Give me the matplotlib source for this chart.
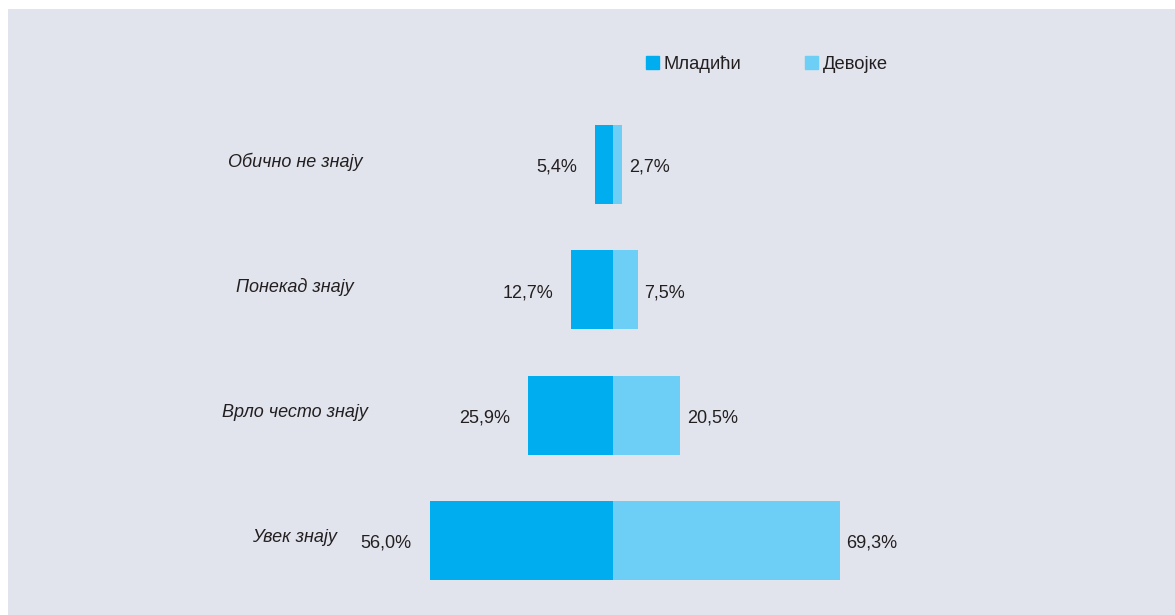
import matplotlib
matplotlib.use('Agg')
import matplotlib.pyplot as plt
from matplotlib.patches import Patch

plt.rcParams['font.family'] = ['Liberation Sans', 'DejaVu Sans']

categories = ['Обично не знају', 'Понекад знају', 'Врло често знају', 'Увек знају']
mladici = [5.4, 12.7, 25.9, 56.0]
devojke = [2.7, 7.5, 20.5, 69.3]
series_names = ['Младићи', 'Девојке']

c_dark = '#00aeef'
c_light = '#6dcff6'
bg = '#e1e4ed'
txt = '#231f20'

W, H = 1175, 615
fig = plt.figure(figsize=(W / 100, H / 100), dpi=100, facecolor='white')

# gray panel (starts a few px in from top/left)
x0, y0 = 8, 9
rect = [x0 / W, 0, 1 - x0 / W, 1 - y0 / H]
bg_ax = fig.add_axes(rect)
bg_ax.set_facecolor(bg)
bg_ax.set_xticks([])
bg_ax.set_yticks([])
for s in bg_ax.spines.values():
    s.set_visible(False)

ax = fig.add_axes(rect)
ax.patch.set_alpha(0)
ax.axis('off')

# scale: zero at x=613px, 3.27 px per percent; rows every 125.33px, first at 164.5px
zero_px, px_per = 613, 3.27
row0, row_step = 164.5, 125.33
ax.set_xlim(-(zero_px - x0) / px_per, (W - zero_px) / px_per)
ax.set_ylim(3 + (H - (row0 + 3 * row_step)) / row_step, -(row0 - y0) / row_step)

ypos = range(len(categories))
ax.barh(ypos, [-v for v in mladici], height=0.63, color=c_dark)
ax.barh(ypos, devojke, height=0.63, color=c_light)

for i, (cat, m, d) in enumerate(zip(categories, mladici, devojke)):
    ax.annotate(cat, xy=(0, i), xytext=(-229, 2), textcoords='offset points',
                ha='center', va='center', fontsize=13, style='italic', color=txt)
    ax.annotate(f'{m:.1f}%'.replace('.', ','), xy=(-m, i), xytext=(-13, -2),
                textcoords='offset points', ha='right', va='center',
                fontsize=13, color=txt)
    ax.annotate(f'{d:.1f}%'.replace('.', ','), xy=(d, i), xytext=(5, -2),
                textcoords='offset points', ha='left', va='center',
                fontsize=13, color=txt)

handles = [Patch(color=c_dark), Patch(color=c_light)]
fig.legend(handles, series_names, loc='center left',
           bbox_to_anchor=(646 / W, 1 - 64.5 / H), bbox_transform=fig.transFigure,
           ncol=2, frameon=False, borderpad=0, borderaxespad=0,
           handlelength=0.7, handleheight=0.7, handletextpad=0.28,
           columnspacing=3.45, prop={'size': 13.2}, labelcolor=txt)

plt.savefig('out.png', dpi=100, facecolor='white')
